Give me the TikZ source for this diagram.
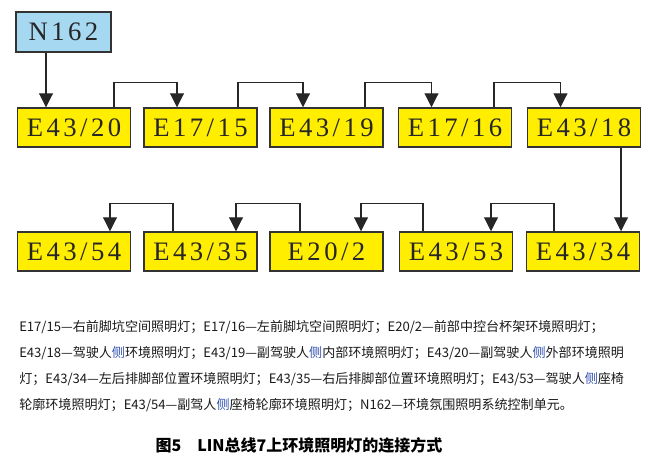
\documentclass[tikz,border=0pt]{standalone}
\usepackage{xcolor}
\usepackage{fontspec}
\usepackage{tikz}
\usetikzlibrary{arrows.meta, calc}
\setmainfont{Liberation Serif}
\newfontfamily\cjk{Noto Sans CJK SC}
\newfontfamily\boxfont[LetterSpace=13]{Liberation Serif}
\definecolor{figyellow}{HTML}{FFEE00}
\definecolor{figblue}{HTML}{A6D8F2}
\definecolor{figborder}{HTML}{333333}
\definecolor{figside}{HTML}{2F4FB0}
\tikzset{
    lamp/.style={draw=figborder, line width=1.1pt, fill=figyellow, text=black!85,
        font=\boxfont\fontsize{20}{22}\selectfont, minimum width=84.75pt, minimum height=29.25pt, inner sep=0pt},
    ctrl/.style={lamp, fill=figblue, minimum width=71.25pt, minimum height=30pt},
    link/.style={draw=black!85, line width=0.8pt, -{Triangle[length=10.5pt, width=10.5pt]}}
}

\begin{document}
\begin{tikzpicture}[x=0.75pt, y=-0.75pt]
    \useasboundingbox (0,0) rectangle (655,473);

    % control unit
    \node[ctrl] (n162) at (63.5, 32) {N162};

    % first row
    \node[lamp] (e4320) at (74, 127.5) {E43/20};
    \node[lamp] (e1715) at (200.5, 127.5) {E17/15};
    \node[lamp] (e4319) at (326.5, 127.5) {E43/19};
    \node[lamp] (e1716) at (455, 127.5) {E17/16};
    \node[lamp] (e4318) at (584, 127.5) {E43/18};

    % second row
    \node[lamp] (e4354) at (74, 251.5) {E43/54};
    \node[lamp] (e4335) at (200.5, 251.5) {E43/35};
    \node[lamp] (e202) at (326.5, 251.5) {E20/2};
    \node[lamp] (e4353) at (456, 251.5) {E43/53};
    \node[lamp] (e4334) at (583, 251.5) {E43/34};

    % LIN chain, first row
    \draw[link] ($(n162.south)+(-17.5,0)$) -- ($(e4320.north)+(-28,0)$);
    \draw[link] ($(e4320.north)+(40,0)$) |- ($(e1715.north)+(-23.5,-25)$) -- ($(e1715.north)+(-23.5,0)$);
    \draw[link] ($(e1715.north)+(37.5,0)$) |- ($(e4319.north)+(-23.5,-25)$) -- ($(e4319.north)+(-23.5,0)$);
    \draw[link] ($(e4319.north)+(38.5,0)$) |- ($(e1716.north)+(-23.5,-25)$) -- ($(e1716.north)+(-23.5,0)$);
    \draw[link] ($(e1716.north)+(39,0)$) |- ($(e4318.north)+(-23.5,-25)$) -- ($(e4318.north)+(-23.5,0)$);

    % down to the second row and back
    \draw[link] ($(e4318.south)+(37,0)$) -- ($(e4334.north)+(38,0)$);
    \draw[link] ($(e4334.north)+(-29,0)$) |- ($(e4353.north)+(35,-28)$) -- ($(e4353.north)+(35,0)$);
    \draw[link] ($(e4353.north)+(-33,0)$) |- ($(e202.north)+(34.5,-28)$) -- ($(e202.north)+(34.5,0)$);
    \draw[link] ($(e202.north)+(-26.5,0)$) |- ($(e4335.north)+(35.5,-28)$) -- ($(e4335.north)+(35.5,0)$);
    \draw[link] ($(e4335.north)+(-27.5,0)$) |- ($(e4354.north)+(36,-28)$) -- ($(e4354.north)+(36,0)$);

    % legend
    \node[anchor=north west, inner sep=0pt, align=left, text=black!90,
        font=\cjk\fontsize{9.8}{19.5}\selectfont] (legend) at (19, 320)
        {E17/15—右前脚坑空间照明灯；E17/16—左前脚坑空间照明灯；E20/2—前部中控台杯架环境照明灯；\\
         E43/18—驾驶人{\color{figside}侧}环境照明灯；E43/19—副驾驶人{\color{figside}侧}内部环境照明灯；E43/20—副驾驶人{\color{figside}侧}外部环境照明\\
         灯；E43/34—左后排脚部位置环境照明灯；E43/35—右后排脚部位置环境照明灯；E43/53—驾驶人{\color{figside}侧}座椅\\
         轮廓环境照明灯；E43/54—副驾人{\color{figside}侧}座椅轮廓环境照明灯；N162—环境氛围照明系统控制单元。};

    % caption
    \node[font=\cjk\bfseries\fontsize{12}{14}\selectfont, inner sep=0pt] (caption) at (299, 445)
        {图5\quad LIN总线7上环境照明灯的连接方式};
\end{tikzpicture}
\end{document}
